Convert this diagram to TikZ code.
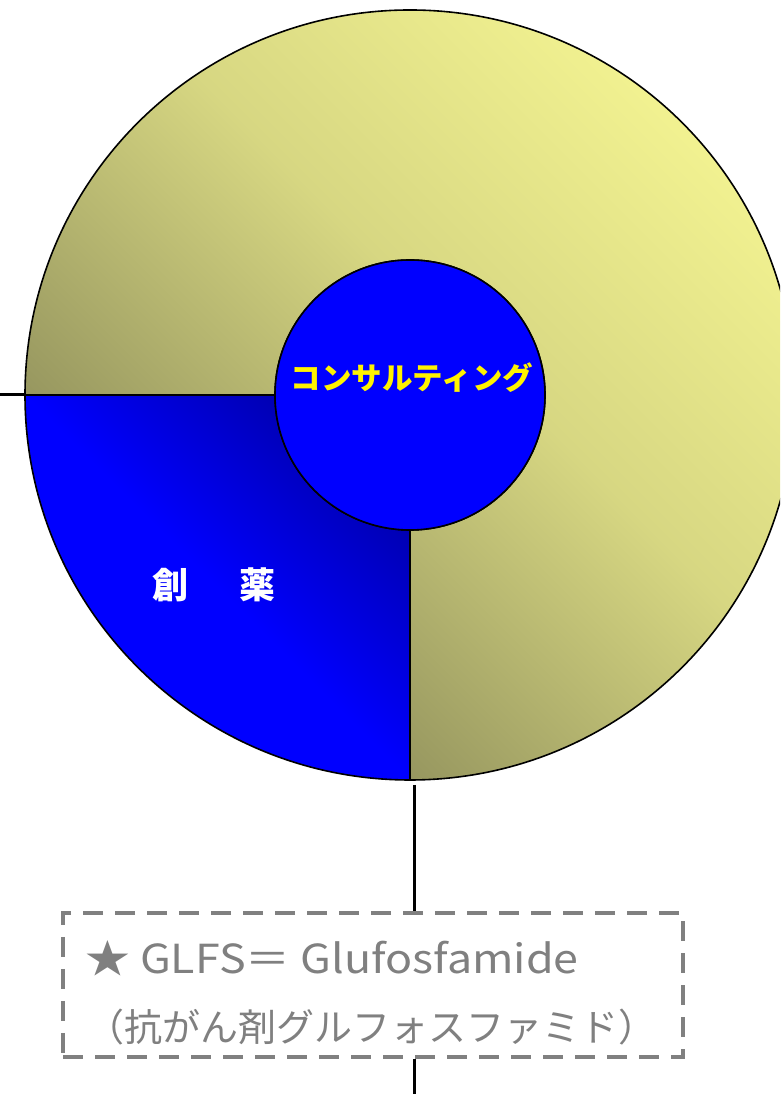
\documentclass[tikz,border=0pt]{standalone}
\usepackage{fontspec}
\newfontfamily\cjk{Noto Sans CJK JP}
\definecolor{ydark}{RGB}{115,115,72}
\definecolor{ymid}{RGB}{150,150,95}
\definecolor{ymidb}{RGB}{215,215,130}
\definecolor{ylight}{RGB}{248,248,148}
\definecolor{bbright}{RGB}{0,0,255}
\definecolor{bdark}{RGB}{0,0,140}
\definecolor{boxgray}{RGB}{128,128,128}
\pgfdeclarehorizontalshading{yshade}{100bp}{color(0bp)=(ydark); color(15bp)=(ydark); color(32bp)=(ymid); color(55bp)=(ymidb); color(80bp)=(ylight); color(100bp)=(ylight)}
\pgfdeclarehorizontalshading{bshade}{100bp}{color(0bp)=(bbright); color(50bp)=(bbright); color(85bp)=(bdark); color(100bp)=(bdark)}
\tikzset{
  ring/.style={draw=black, line width=1.6pt},
  yellowpart/.style={ring, shading=yshade, shading angle=45},
  bluepart/.style={ring, shading=bshade, shading angle=45},
  hub/.style={circle, fill=bbright, draw=black, line width=1.6pt, minimum size=270pt, inner sep=0pt},
  wire/.style={draw=black, line width=3pt},
  notebox/.style={draw=boxgray, line width=4pt, dash pattern=on 20pt off 12pt, minimum width=620pt, minimum height=144pt, inner sep=0pt},
  notetext/.style={text=boxgray, anchor=west, inner sep=0pt},
}
\begin{document}
\begin{tikzpicture}[x=1pt,y=1pt]
\useasboundingbox (0,0) rectangle (780,1094);
\clip (0,0) rectangle (780,1094);
\fill[white] (0,0) rectangle (780,1094);
\coordinate (C) at (410,699);
% yellow three-quarter ring
\shadedraw[yellowpart] (25,699) arc[start angle=180, end angle=-90, radius=385pt] -- (410,564) arc[start angle=-90, end angle=180, radius=135pt] -- cycle;
% blue quarter ring
\shadedraw[bluepart] (25,699) arc[start angle=180, end angle=270, radius=385pt] -- (410,564) arc[start angle=270, end angle=180, radius=135pt] -- cycle;
\node[text=white, font=\cjk\bfseries\fontsize{36}{36}\selectfont] (souyaku) at (214,509) {創\hspace{51pt}薬};
\node[hub] (inner) at (C) {};
\node[text=yellow, font=\cjk\bfseries\fontsize{30.5}{30.5}\selectfont] (consult) at (412,716) {コンサルティング};
% connectors
\coordinate (outerW) at (25,699);
\coordinate (leftend) at (0,699);
\draw[wire] (leftend) -- (outerW);
\node[notebox] (note) at (373,109) {};
\coordinate (ringS) at (414,309);
\coordinate (bottomend) at (414,0);
\draw[wire] (ringS) -- (ringS |- note.north);
\draw[wire] (ringS |- note.south) -- (bottomend);
\node[notetext, font=\cjk\fontsize{40}{40}\selectfont, xscale=1.12] (line1) at (85,136) {★ GLFS＝ Glufosfamide};
\node[notetext, font=\cjk\fontsize{38}{38}\selectfont] (line2) at (86,67) {（抗がん剤グルフォスファミド）};
\end{tikzpicture}
\end{document}
